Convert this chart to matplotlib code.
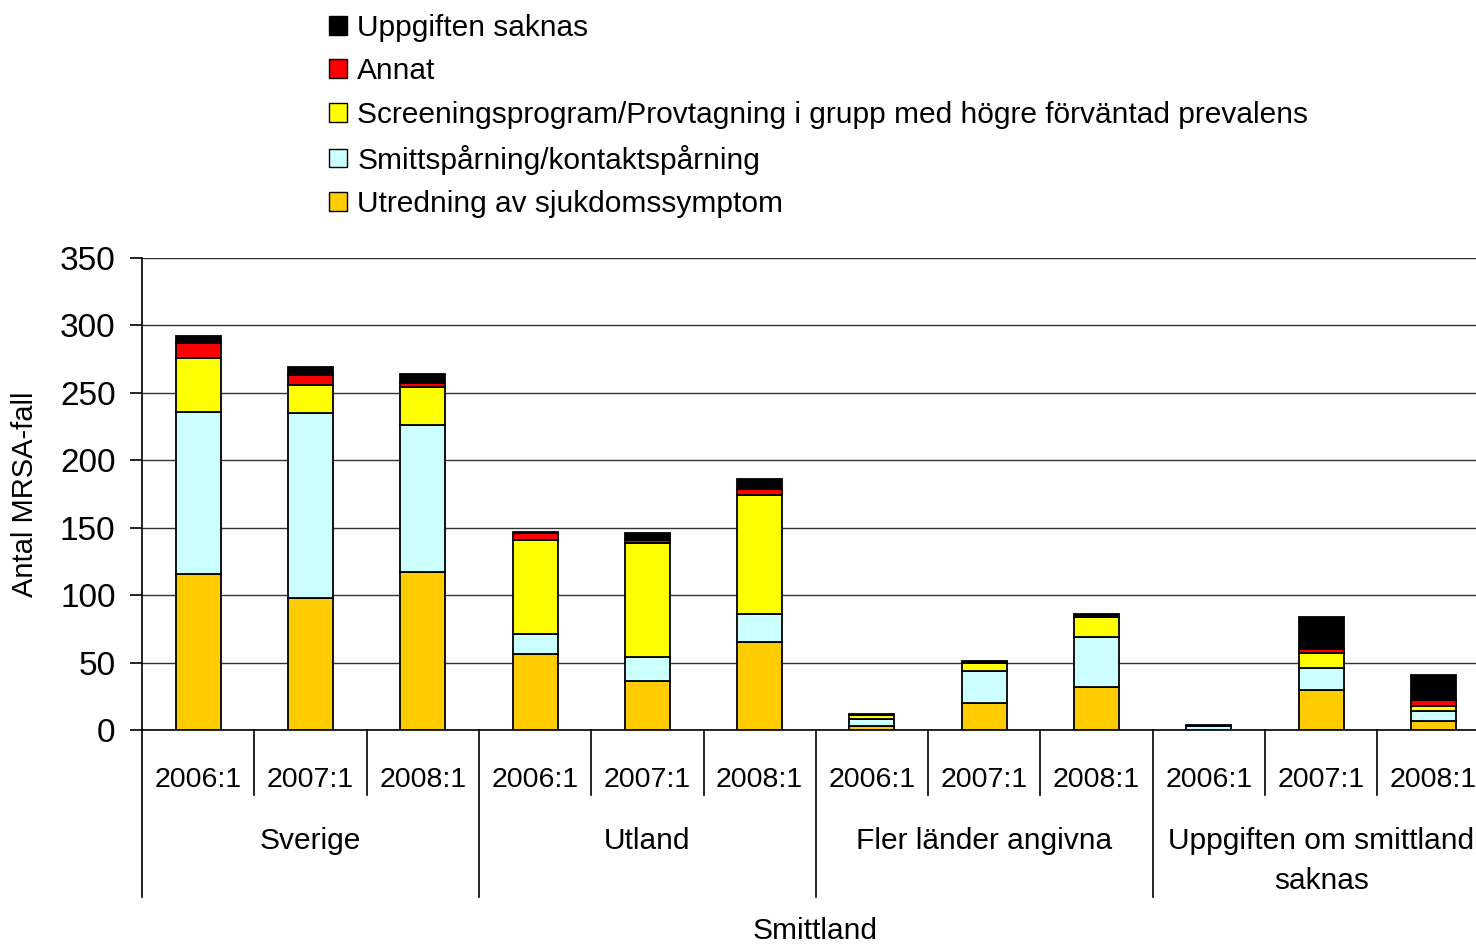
import matplotlib
matplotlib.use("Agg")
import matplotlib.pyplot as plt
import numpy as np
from matplotlib.lines import Line2D
from matplotlib.patches import Patch

plt.rcParams['font.family'] = ['Liberation Sans', 'DejaVu Sans']

groups = ["Sverige", "Utland", "Fler länder angivna", "Uppgiften om smittland\nsaknas"]
periods = ["2006:1", "2007:1", "2008:1"]

series_names = ["Utredning av sjukdomssymptom",
                "Smittspårning/kontaktspårning",
                "Screeningsprogram/Provtagning i grupp med högre förväntad prevalens",
                "Annat",
                "Uppgiften saknas"]
colors = ["#FFCC00", "#CCFFFF", "#FFFF00", "#FF0000", "#000000"]

utredning = [116, 98, 117, 56, 36, 65, 3, 20, 32, 0, 30, 7]
smittsparning = [120, 137, 109, 15, 18, 21, 5, 24, 37, 3, 16, 7]
screening = [40, 21, 28, 70, 85, 88, 3, 6, 15, 0, 11, 4]
annat = [11, 7, 3, 5, 2, 5, 0, 0, 0, 0, 3, 4]
saknas = [5, 6, 7, 1, 5, 7, 1, 1, 2, 1, 24, 19]

series = [utredning, smittsparning, screening, annat, saknas]

W, H = 1476, 944
fig = plt.figure(figsize=(W / 100, H / 100), dpi=100)
slot = 112.3
x0 = 142
ax = fig.add_axes([x0 / W, (H - 730) / H, (W - x0) / W, (730 - 258) / H])

n = len(utredning)
x = np.arange(n)
bottom = np.zeros(n)
handles = []
for vals, c, name in zip(series, colors, series_names):
    v = np.array(vals, dtype=float)
    ax.bar(x, v, width=0.40, bottom=bottom, color=c, edgecolor="black",
           linewidth=1.3, zorder=3)
    bottom += v
    handles.append(Patch(facecolor=c, edgecolor="black", linewidth=1.0, label=name))

ax.set_ylim(0, 350)
ax.set_yticks(np.arange(0, 351, 50))
ax.set_xlim(-0.5, -0.5 + (W - x0) / slot)
ax.yaxis.grid(True, color="#333333", linewidth=1.0, zorder=0)
ax.set_axisbelow(True)
for s in ["top", "right"]:
    ax.spines[s].set_visible(False)
ax.spines["left"].set_linewidth(1.2)
ax.spines["bottom"].set_linewidth(1.2)
ax.tick_params(axis="y", length=9, width=1.2, pad=10, labelsize=24)
ax.set_xticks([])

fig.text(25 / W, 1 - 494 / H, "Antal MRSA-fall", rotation=90, ha="center",
         va="center", fontsize=21)

trans = ax.get_xaxis_transform()
axh = 730 - 258
def yfrac(py):
    return (730 - py) / axh

# period labels and separators
for i in range(n):
    ax.text(x[i], yfrac(780), periods[i % 3], ha="center", va="center",
            fontsize=20.5, transform=trans)
for i in range(n + 1):
    xb = i - 0.5
    ytop = yfrac(897) if i % 3 == 0 else yfrac(795)
    ax.add_line(Line2D([xb, xb], [0, ytop], transform=trans, color="black",
                       linewidth=1.2, clip_on=False))

for g, name in enumerate(groups):
    yc = 861 if "\n" in name else 841
    ax.text(3 * g + 1, yfrac(yc), name, ha="center", va="center",
            fontsize=21.5, transform=trans, linespacing=1.52)

fig.text(815 / W, 1 - 931 / H, "Smittland", ha="center", va="center", fontsize=21.5)

leg = fig.legend(handles=handles[::-1], loc="upper left",
                 bbox_to_anchor=(314 / W, 1 + 1 / H), frameon=False,
                 fontsize=21.5, handlelength=0.6, handleheight=0.6,
                 handletextpad=0.35, labelspacing=0.52, borderpad=0.0)

fig.savefig("out.png", dpi=100)
